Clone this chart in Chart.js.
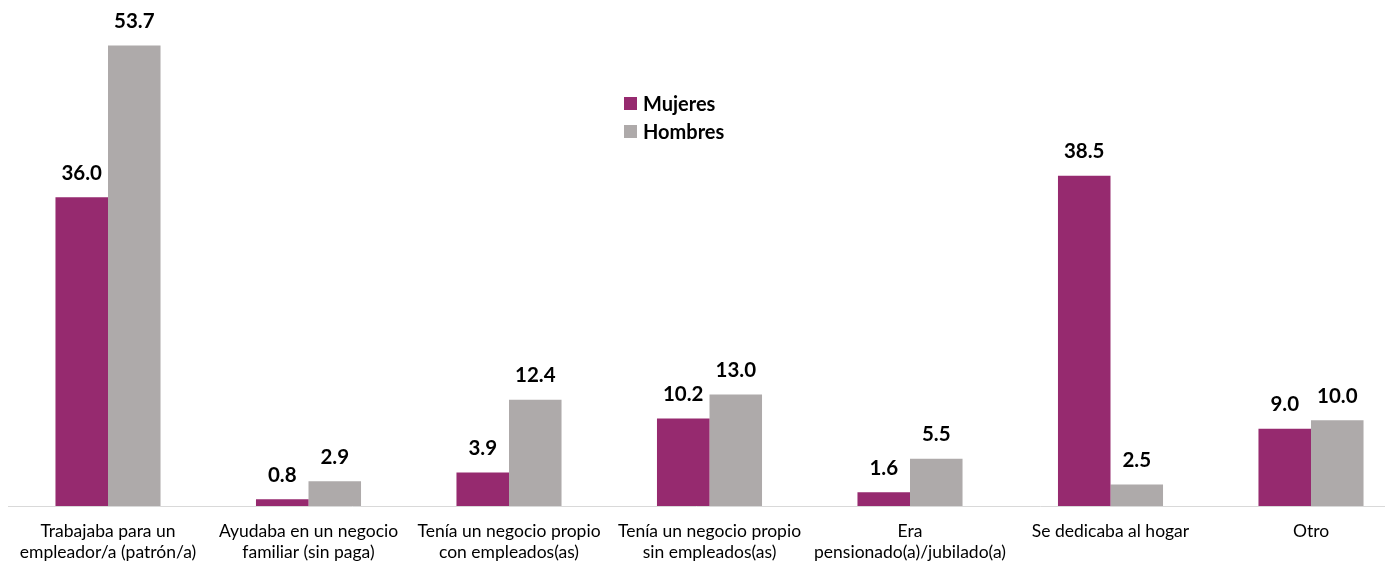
<!DOCTYPE html>
<html>
<head>
<meta charset="utf-8">
<script src="https://cdn.jsdelivr.net/npm/chart.js@4.4.1/dist/chart.umd.min.js"></script>
<style>
  html, body { margin: 0; padding: 0; background: #ffffff; }
  #wrap { position: relative; width: 1392px; height: 563px; }
  #legend { position: absolute; left: 624px; top: 89px; font-family: Lato, "Open Sans", sans-serif; font-weight: bold; font-size: 20px; color: #000; }
  .item { display: flex; align-items: center; height: 28px; }
  .sw { width: 13px; height: 13px; margin-right: 6px; }
</style>
</head>
<body>
<div id="wrap">
  <canvas id="c" width="1392" height="563"></canvas>
  <div id="legend"></div>
</div>
<script>
const categories = [
  ["Trabajaba para un", "empleador/a (patrón/a)"],
  ["Ayudaba en un negocio", "familiar (sin paga)"],
  ["Tenía un negocio propio", "con empleados(as)"],
  ["Tenía un negocio propio", "sin empleados(as)"],
  ["Era", "pensionado(a)/jubilado(a)"],
  ["Se dedicaba al hogar"],
  ["Otro"]
];
const seriesNames = ["Mujeres", "Hombres"];
const mujeres = [36.0, 0.8, 3.9, 10.2, 1.6, 38.5, 9.0];
const hombres = [53.7, 2.9, 12.4, 13.0, 5.5, 2.5, 10.0];
const colors = ["#962A6F", "#AEAAAA"];

const legendEl = document.getElementById('legend');
seriesNames.forEach((n, i) => {
  const d = document.createElement('div');
  d.className = 'item';
  d.innerHTML = '<span class="sw" style="background:' + colors[i] + '"></span><span>' + n + '</span>';
  legendEl.appendChild(d);
});

const valueLabels = {
  id: 'valueLabels',
  afterDatasetsDraw(chart) {
    const ctx = chart.ctx;
    ctx.save();
    ctx.font = 'bold 20.5px Lato, "Open Sans", sans-serif';
    ctx.fillStyle = '#000';
    ctx.textAlign = 'center';
    ctx.textBaseline = 'middle';
    chart.data.datasets.forEach((ds, di) => {
      chart.getDatasetMeta(di).data.forEach((el, i) => {
        ctx.fillText(ds.data[i].toFixed(1), el.x, el.y - 24);
      });
    });
    ctx.restore();
  }
};

const baseLine = {
  id: 'baseLine',
  beforeDatasetsDraw(chart) {
    const ctx = chart.ctx;
    const y = Math.round(chart.chartArea.bottom) + 0.5;
    ctx.save();
    ctx.strokeStyle = '#D9D9D9';
    ctx.lineWidth = 1;
    ctx.beginPath();
    ctx.moveTo(chart.chartArea.left - 100, y);
    ctx.lineTo(chart.chartArea.right + 74, y);
    ctx.stroke();
    ctx.restore();
  }
};

new Chart(document.getElementById('c'), {
  type: 'bar',
  data: {
    labels: categories,
    datasets: [
      { label: seriesNames[0], data: mujeres, backgroundColor: colors[0], clip: false },
      { label: seriesNames[1], data: hombres, backgroundColor: colors[1], clip: false }
    ]
  },
  options: {
    responsive: false,
    animation: false,
    layout: { padding: { left: 108, right: 81, top: 0, bottom: -15 } },
    datasets: { bar: { categoryPercentage: 0.524, barPercentage: 1.0 } },
    plugins: { legend: { display: false }, tooltip: { enabled: false } },
    scales: {
      x: {
        offset: false,
        grid: { display: false, drawTicks: false },
        border: { display: false },
        ticks: {
          padding: 15,
          maxRotation: 0,
          autoSkip: false,
          color: '#000',
          font: { family: 'Lato, "Open Sans", sans-serif', size: 17.5, lineHeight: '21px' }
        }
      },
      y: { display: false, min: 0, max: 59 }
    }
  },
  plugins: [valueLabels, baseLine]
});
</script>
</body>
</html>
